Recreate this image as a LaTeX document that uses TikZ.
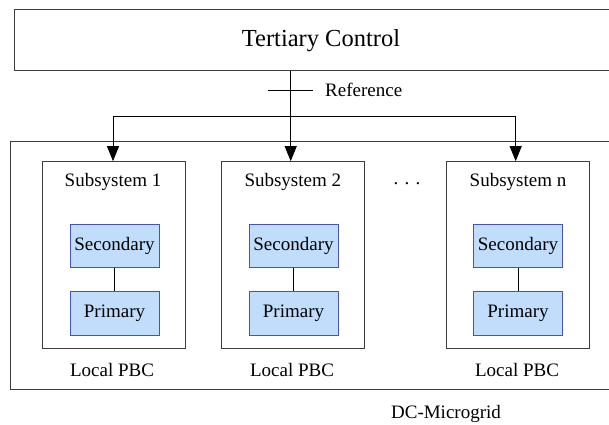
\documentclass[tikz,border=0pt]{standalone}
\usepackage{fontspec}
\setmainfont{Liberation Serif}
\usetikzlibrary{arrows.meta}
\definecolor{boxblue}{RGB}{192,222,252}
\definecolor{edgeblue}{RGB}{70,80,200}
\definecolor{linegray}{RGB}{60,60,60}
\tikzset{
  txt/.style={font=\fontsize{19}{22}\selectfont, inner sep=0pt},
  subbox/.style={draw=linegray, line width=1pt, minimum width=143pt, minimum height=187.3pt, inner sep=0pt},
  ctrlbox/.style={draw=edgeblue, fill=boxblue, line width=1pt, minimum width=89pt, minimum height=43.5pt, inner sep=0pt, font=\fontsize{19}{22}\selectfont},
  wire/.style={draw=black, line width=0.9pt},
  arr/.style={wire, -{Triangle[length=15pt,width=12pt]}}
}
\begin{document}
\begin{tikzpicture}[x=1pt,y=-1pt]
\useasboundingbox (0,0) rectangle (609,424);
\clip (0,0) rectangle (609,424);
% tertiary
\node[draw=linegray, line width=1pt, minimum width=614pt, minimum height=60.7pt, inner sep=0pt,
      font=\fontsize{24.5}{28}\selectfont] (tert) at (321,40.3) {Tertiary Control};
% outer microgrid box
\node[draw=linegray, line width=1pt, minimum width=620pt, minimum height=247.6pt, inner sep=0pt] (grid) at (320.7,265.5) {};
% subsystems
\node[subbox] (s1) at (113.7,255.3) {};
\node[subbox] (s2) at (292.8,255.3) {};
\node[subbox] (sn) at (518,255.3) {};
\node[txt] (t1) at (113,182) {Subsystem 1};
\node[txt] (t2) at (292.8,182) {Subsystem 2};
\node[txt] (tn) at (518,182) {Subsystem n};
\node[txt] (dots) at (407,184) {. . .};
% control boxes
\node[ctrlbox] (sec1) at (114.5,246) {Secondary};
\node[ctrlbox] (pri1) at (114.5,313.4) {Primary};
\node[ctrlbox] (sec2) at (293.5,246) {Secondary};
\node[ctrlbox] (pri2) at (293.5,313.4) {Primary};
\node[ctrlbox] (secn) at (518,246) {Secondary};
\node[ctrlbox] (prin) at (518,313.4) {Primary};
\draw[wire, line width=0.8pt] (sec1) -- (pri1);
\draw[wire, line width=0.8pt] (sec2) -- (pri2);
\draw[wire, line width=0.8pt] (secn) -- (prin);
% labels
\node[txt] (l1) at (112,370) {Local PBC};
\node[txt] (l2) at (292,370) {Local PBC};
\node[txt] (ln) at (517,370) {Local PBC};
\node[txt] (dc) at (446,414) {DC-Microgrid};
% reference link
\coordinate (j) at (290.7,116);
\coordinate (ta) at (268,90.7);
\coordinate (tb) at (313,90.7);
\coordinate (a1) at (113,116);
\coordinate (an) at (515.7,116);
\node[txt, anchor=west] (ref) at (325,90) {Reference};
\draw[wire] (tert.south -| j) -- (j);
\draw[wire] (ta) -- (tb);
\draw[wire] (a1) -- (an);
\draw[arr] (a1) -- (a1 |- s1.north);
\draw[arr] (j) -- (j |- s2.north);
\draw[arr] (an) -- (an |- sn.north);
\end{tikzpicture}
\end{document}
